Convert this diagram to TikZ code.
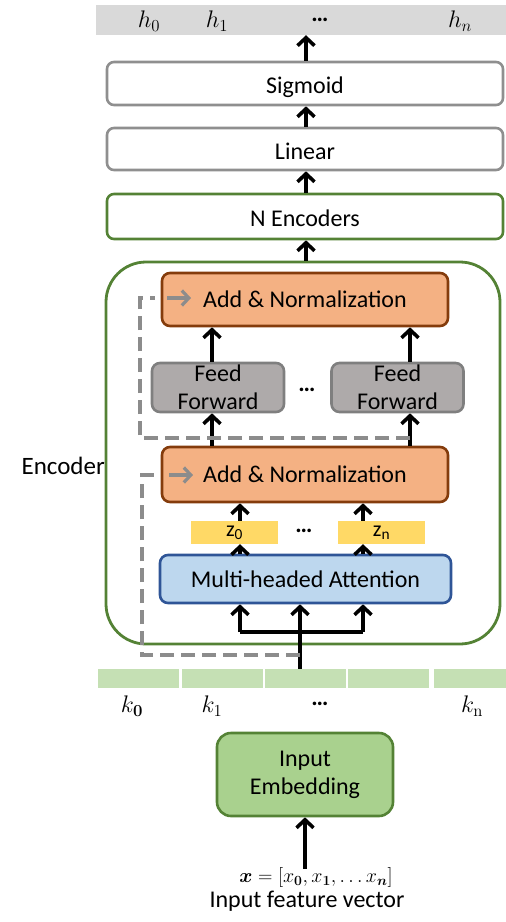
\RequirePackage{fix-cm}
\documentclass[tikz,border=0pt]{standalone}
\usepackage{amsmath,bm}
\usepackage[no-math]{fontspec}
\setmainfont{Carlito}
\usetikzlibrary{arrows.meta}

\definecolor{bandgray}{HTML}{D9D9D9}
\definecolor{bandgreen}{HTML}{C5E0B4}
\definecolor{boxgray}{HTML}{8F8F8F}
\definecolor{encgreen}{HTML}{548235}
\definecolor{anfill}{HTML}{F4B183}
\definecolor{andraw}{HTML}{843C0C}
\definecolor{fffill}{HTML}{AEAAAA}
\definecolor{ffdraw}{HTML}{7F7F7F}
\definecolor{zfill}{HTML}{FFD966}
\definecolor{mhafill}{HTML}{BDD7EE}
\definecolor{mhadraw}{HTML}{2F5597}
\definecolor{embfill}{HTML}{A9D18E}
\definecolor{skipgray}{HTML}{8C8C8C}

\begin{document}
\begin{tikzpicture}[x=1pt,y=-1pt,
  every node/.style={font=\fontsize{24}{28}\selectfont, inner sep=0pt},
  box/.style={draw, line width=2.6pt, rounded corners=7pt, minimum width=396pt,
    text height=20pt, text depth=0pt},
  graybox/.style={box, draw=boxgray},
  greenbox/.style={box, draw=encgreen},
  anbox/.style={draw=andraw, fill=anfill, line width=2.6pt, rounded corners=8pt,
    minimum width=286pt},
  ffbox/.style={draw=ffdraw, fill=fffill, line width=2.6pt, rounded corners=8pt,
    minimum width=132pt, minimum height=49pt, align=center},
  zbox/.style={fill=zfill, minimum width=87pt, minimum height=23pt,
    font=\fontsize{22}{24}\selectfont},
  kseg/.style={fill=bandgreen, minimum height=19pt},
  dots/.style={font=\fontsize{24}{28}\selectfont\bfseries},
  arr/.style={line width=3.6pt, -{Straight Barb[length=8pt,width=17pt]}},
  skipline/.style={draw=skipgray, line width=3.2pt, dash pattern=on 14pt off 7pt},
  skiparr/.style={draw=skipgray, line width=3.2pt,
    -{Straight Barb[length=7pt,width=15pt]}}]

\useasboundingbox (0,0) rectangle (506,922);

% output band
\node[fill=bandgray, minimum width=410pt, minimum height=30pt] (hband) at (301,20) {};
\node (h0) at (149,21) {$h_0$};
\node (h1) at (217,21) {$h_1$};
\node[dots] (hd) at (320,20) {…};
\node (hn) at (460,21) {$h_n$};

% head of the network
\node[graybox, minimum height=43pt] (sig) at (305,83.5) {Sigmoid};
\node[graybox, minimum height=42pt] (lin) at (305,149) {Linear};
\node[greenbox, minimum height=45pt] (nenc) at (305,216.5) {N Encoders};

% encoder block
\node[draw=encgreen, line width=2.8pt, rounded corners=40pt,
      minimum width=394pt, minimum height=382pt] (enc) at (303,453) {};
\node[anchor=east, font=\fontsize{25}{28}\selectfont] (encl) at (105,466) {Encoder};

\node[anbox, minimum height=53pt] (an2) at (305,299.5) {Add \& Normalization};
\node[ffbox] (ff1) at (218,387.5) {Feed\\Forward};
\node[ffbox] (ff2) at (397.5,387.5) {Feed\\Forward};
\node[dots] (ffd) at (307,390) {…};

\node[anbox, minimum height=55pt] (an1) at (305,474.5) {Add \& Normalization};
\node[zbox] (z0) at (234.5,532.5) {z\textsubscript{0}};
\node[zbox] (zn) at (381.5,532.5) {z\textsubscript{n}};
\node[dots] (zd) at (304,531) {…};
\node[draw=mhadraw, fill=mhafill, line width=2.6pt, rounded corners=8pt,
      minimum width=291pt, minimum height=48pt] (mha) at (305.5,579) {Multi-headed Attention};

% key band
\node[kseg, minimum width=81pt] (k0s) at (138.5,678.5) {};
\node[kseg, minimum width=81pt] (k1s) at (222.5,678.5) {};
\node[kseg, minimum width=81pt] (k2s) at (305.5,678.5) {};
\node[kseg, minimum width=81pt] (k3s) at (388.5,678.5) {};
\node[kseg, minimum width=72pt] (k4s) at (470,678.5) {};
\node (k0) at (132,706) {$k_{\mathbf{0}}$};
\node (k1) at (212,706) {$k_1$};
\node[dots] (kd) at (320,704) {…};
\node (kn) at (472,706) {$k_{\mathrm{n}}$};

% input
\node[draw=encgreen, fill=embfill, line width=2.6pt, rounded corners=14pt,
      minimum width=176pt, minimum height=83pt, align=center] (emb) at (305,774.5)
      {Input\\Embedding};
\node[font=\fontsize{20}{24}\selectfont] (xvec) at (316,877)
      {$\bm{x} = [x_{\mathbf{0}}, x_{\mathbf{1}}, \ldots x_{\bm{n}}]$};
\node (cap) at (307,901) {Input feature vector};

% column positions of the connectors
\coordinate (ctop) at (306,0);
\coordinate (cA) at (212,0);
\coordinate (cB) at (410,0);
\coordinate (cz0) at (240,0);
\coordinate (czn) at (363,0);
\coordinate (cmid) at (300,0);
\coordinate (cin) at (305,0);
\coordinate (tee) at (300,632);

% main flow
\draw[arr] ([yshift=-2pt]xvec.north -| cin) -- (emb.south -| cin);
\draw[arr] (k2s.north -| cmid) -- (mha.south -| cmid);
\draw[line width=3.6pt] (tee -| cz0) -- (tee -| czn);
\draw[arr] (tee -| cz0) -- (mha.south -| cz0);
\draw[arr] (tee -| czn) -- (mha.south -| czn);
\draw[arr] (mha.north -| cz0) -- (z0.south -| cz0);
\draw[arr] (mha.north -| czn) -- (zn.south -| czn);
\draw[arr] (z0.north -| cz0) -- (an1.south -| cz0);
\draw[arr] (zn.north -| czn) -- (an1.south -| czn);
\draw[arr] (an1.north -| cA) -- (ff1.south -| cA);
\draw[arr] (an1.north -| cB) -- (ff2.south -| cB);
\draw[arr] (ff1.north -| cA) -- (an2.south -| cA);
\draw[arr] (ff2.north -| cB) -- (an2.south -| cB);
\draw[arr] (enc.north -| ctop) -- (nenc.south -| ctop);
\draw[arr] (nenc.north -| ctop) -- (lin.south -| ctop);
\draw[arr] (lin.north -| ctop) -- (sig.south -| ctop);
\draw[arr] (sig.north -| ctop) -- (hband.south -| ctop);

% residual connections
\coordinate (r1a) at (300,655);
\coordinate (r1b) at (142,475);
\coordinate (r1c) at (157,475);
\coordinate (r1d) at (169,475);
\coordinate (r1e) at (193,475);
\draw[skipline] (r1a) -| (r1b) -- (r1c);
\draw[skiparr] (r1d) -- (r1e);

\coordinate (r2a) at (410,438);
\coordinate (r2b) at (140,298);
\coordinate (r2c) at (155,298);
\coordinate (r2d) at (167,298);
\coordinate (r2e) at (191,298);
\draw[skipline] (r2a) -| (r2b) -- (r2c);
\draw[skiparr] (r2d) -- (r2e);
\end{tikzpicture}
\end{document}
